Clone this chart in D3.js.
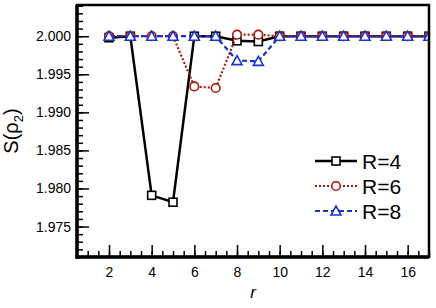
<!DOCTYPE html>
<html>
<head>
<meta charset="utf-8">
<script src="https://cdn.jsdelivr.net/npm/d3@7"></script>
<style>
  body { margin: 0; background: #fff; }
  text { font-family: "Liberation Sans", Arial, Helvetica, sans-serif; }
</style>
</head>
<body>
<script>
var rValues = [2, 3, 4, 5, 6, 7, 8, 9, 10, 11, 12, 13, 14, 15, 16, 17];
var sR4 = [1.9998, 2.0, 1.9791, 1.9782, 2.0, 2.0, 1.9994, 1.9993, 2.0, 2.0, 2.0, 2.0, 2.0, 2.0, 2.0, 2.0];
var sR6 = [2.0, 2.0, 2.0, 2.0, 1.9934, 1.9932, 2.0002, 2.0002, 2.0, 2.0, 2.0, 2.0, 2.0, 2.0, 2.0, 2.0];
var sR8 = [2.0, 2.0, 2.0, 2.0, 2.0, 2.0, 1.9968, 1.9967, 2.0, 2.0, 2.0, 2.0, 2.0, 2.0, 2.0, 2.0];
var seriesNames = ["R=4", "R=6", "R=8"];
var xTicks = [2, 4, 6, 8, 10, 12, 14, 16];
var yTicks = [1.975, 1.980, 1.985, 1.990, 1.995, 2.000];

var w = 436, h = 308;
var pLeft = 77, pRight = 429, pTop = 5, pBottom = 257;

var svg = d3.select("body").append("svg").attr("width", w).attr("height", h);

var x = d3.scaleLinear().domain([0.5, 17]).range([pLeft, pRight]);
var y = d3.scaleLinear().domain([1.971, 2.0041]).range([pBottom, pTop]);

var series = [
  { name: seriesNames[0], values: sR4, color: "#000000", dash: null, width: 2.5, marker: "square" },
  { name: seriesNames[1], values: sR6, color: "#a8190b", dash: "2,2", width: 2.2, marker: "circle" },
  { name: seriesNames[2], values: sR8, color: "#1b34c6", dash: "5,3", width: 2.2, marker: "triangle" }
];

svg.append("clipPath").attr("id", "clip")
  .append("rect").attr("x", pLeft).attr("y", pTop).attr("width", pRight - pLeft).attr("height", pBottom - pTop);

var plot = svg.append("g").attr("clip-path", "url(#clip)");

var line = d3.line()
  .x(function (d) { return x(d[0]); })
  .y(function (d) { return y(d[1]); });

function drawMarker(g, type, cx, cy, color) {
  if (type === "square") {
    g.append("rect").attr("x", cx - 4).attr("y", cy - 4).attr("width", 8).attr("height", 8)
      .attr("fill", "#fff").attr("stroke", color).attr("stroke-width", 1.6);
  } else if (type === "circle") {
    g.append("circle").attr("cx", cx).attr("cy", cy).attr("r", 4.3)
      .attr("fill", "#fff").attr("stroke", color).attr("stroke-width", 1.6);
  } else {
    g.append("path")
      .attr("d", "M" + cx + "," + (cy - 5) + "L" + (cx + 5) + "," + (cy + 4) + "L" + (cx - 5) + "," + (cy + 4) + "Z")
      .attr("fill", "#fff").attr("stroke", color).attr("stroke-width", 1.6);
  }
}

series.forEach(function (s) {
  var pts = rValues.map(function (r, i) { return [r, s.values[i]]; });
  plot.append("path").datum(pts)
    .attr("d", line)
    .attr("fill", "none")
    .attr("stroke", s.color)
    .attr("stroke-width", s.width)
    .attr("stroke-dasharray", s.dash);
  var mg = plot.append("g");
  pts.forEach(function (p) {
    drawMarker(mg, s.marker, x(p[0]), y(p[1]), s.color);
  });
});

// axes
var xMinor = d3.range(1, 17.01, 0.5);
var yMinor = d3.range(1.972, 2.0041, 0.001);

svg.append("g").attr("transform", "translate(0," + pBottom + ")")
  .call(d3.axisTop(x).tickValues(xMinor).tickSize(6).tickFormat(""))
  .call(function (g) { g.select(".domain").remove(); g.selectAll("line").attr("stroke-width", 1.5); });
svg.append("g").attr("transform", "translate(0," + pBottom + ")")
  .call(d3.axisTop(x).tickValues(xTicks).tickSize(12).tickFormat(""))
  .call(function (g) { g.select(".domain").remove(); g.selectAll("line").attr("stroke-width", 1.5); });
svg.append("g").attr("transform", "translate(0," + pBottom + ")")
  .call(d3.axisBottom(x).tickValues(xTicks).tickSize(0).tickPadding(10).tickFormat(d3.format("d")))
  .call(function (g) {
    g.select(".domain").remove();
    g.selectAll("text").attr("font-size", 14).attr("fill", "#000");
  });

svg.append("g").attr("transform", "translate(" + pLeft + ",0)")
  .call(d3.axisRight(y).tickValues(yMinor).tickSize(6).tickFormat(""))
  .call(function (g) { g.select(".domain").remove(); g.selectAll("line").attr("stroke-width", 1.5); });
svg.append("g").attr("transform", "translate(" + pLeft + ",0)")
  .call(d3.axisRight(y).tickValues(yTicks).tickSize(12).tickFormat(""))
  .call(function (g) { g.select(".domain").remove(); g.selectAll("line").attr("stroke-width", 1.5); });
svg.append("g").attr("transform", "translate(" + pLeft + ",0)")
  .call(d3.axisLeft(y).tickValues(yTicks).tickSize(0).tickPadding(6).tickFormat(d3.format(".3f")))
  .call(function (g) {
    g.select(".domain").remove();
    g.selectAll("text").attr("font-size", 14).attr("fill", "#000");
  });

// frame
svg.append("rect").attr("x", pLeft).attr("y", pTop).attr("width", pRight - pLeft).attr("height", pBottom - pTop)
  .attr("fill", "none").attr("stroke", "#000").attr("stroke-width", 2.5);
svg.append("line").attr("x1", pLeft).attr("x2", pLeft).attr("y1", pTop).attr("y2", pBottom + 1.5)
  .attr("stroke", "#000").attr("stroke-width", 3.5);
svg.append("line").attr("x1", pLeft - 1.5).attr("x2", pRight).attr("y1", pBottom).attr("y2", pBottom)
  .attr("stroke", "#000").attr("stroke-width", 3.5);

// axis labels
var ylab = svg.append("text")
  .attr("transform", "translate(18," + ((pTop + pBottom) / 2) + ") rotate(-90)")
  .attr("text-anchor", "middle")
  .attr("font-size", 20);
ylab.append("tspan").text("S(ρ");
ylab.append("tspan").attr("font-size", 13).attr("dy", 5).text("2");
ylab.append("tspan").attr("dy", -5).text(")");

svg.append("text")
  .attr("x", (pLeft + pRight) / 2).attr("y", 298)
  .attr("text-anchor", "middle")
  .attr("font-size", 17).attr("font-style", "italic")
  .text("r");

// legend
var legend = svg.append("g");
series.forEach(function (s, i) {
  var ly = 161 + i * 25;
  legend.append("line").attr("x1", 315).attr("x2", 357).attr("y1", ly).attr("y2", ly)
    .attr("stroke", s.color).attr("stroke-width", s.width).attr("stroke-dasharray", s.dash);
  drawMarker(legend, s.marker, 336, ly, s.color);
  legend.append("text").attr("x", 362).attr("y", ly + 8)
    .attr("font-size", 21).text(s.name);
});
</script>
</body>
</html>
